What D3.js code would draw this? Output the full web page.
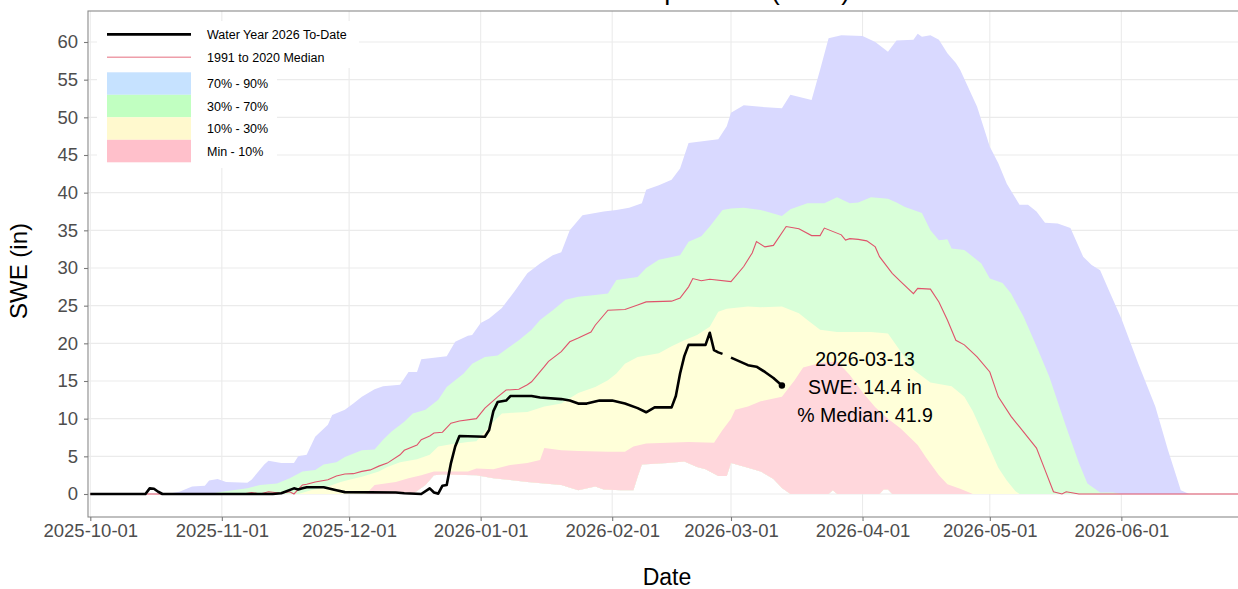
<!DOCTYPE html>
<html>
<head>
<meta charset="utf-8">
<script src="https://cdn.jsdelivr.net/npm/d3@7"></script>
<style>
  body { margin: 0; background: #fff; }
  svg { display: block; font-family: "Liberation Sans", Arial, Helvetica, sans-serif; }
</style>
</head>
<body>
<svg id="chart" width="1238" height="589"></svg>
<script>
// ---- data (date, SWE in inches) ----
const p90 = [["2025-10-01",0],["2025-10-19",0],["2025-10-22",0.3],["2025-10-25",1.0],["2025-10-28",1.1],["2025-10-29",1.8],["2025-10-31",2.0],["2025-11-02",1.6],["2025-11-07",1.5],["2025-11-08",1.9],["2025-11-11",3.9],["2025-11-12",4.4],["2025-11-15",4.1],["2025-11-18",4.1],["2025-11-19",5.0],["2025-11-21",5.2],["2025-11-23",7.6],["2025-11-26",9.2],["2025-11-27",10.5],["2025-11-30",11.2],["2025-12-02",12.0],["2025-12-04",12.9],["2025-12-07",13.9],["2025-12-09",14.3],["2025-12-13",14.5],["2025-12-15",16.2],["2025-12-17",16.2],["2025-12-18",17.9],["2025-12-21",18.1],["2025-12-24",18.3],["2025-12-26",20.2],["2025-12-29",21.0],["2025-12-30",21.1],["2026-01-01",22.7],["2026-01-03",23.3],["2026-01-06",24.7],["2026-01-09",26.9],["2026-01-12",29.3],["2026-01-15",30.6],["2026-01-18",31.7],["2026-01-20",32.1],["2026-01-22",35.0],["2026-01-25",37.0],["2026-01-30",37.5],["2026-02-02",37.7],["2026-02-05",38.0],["2026-02-08",38.6],["2026-02-09",40.4],["2026-02-12",41.0],["2026-02-15",41.7],["2026-02-17",43.2],["2026-02-19",46.6],["2026-02-26",47.1],["2026-02-28",48.8],["2026-03-01",50.6],["2026-03-04",51.6],["2026-03-08",51.4],["2026-03-13",51.2],["2026-03-15",53.0],["2026-03-20",52.3],["2026-03-22",56.3],["2026-03-24",60.5],["2026-03-27",60.9],["2026-04-01",60.8],["2026-04-04",60.0],["2026-04-07",58.7],["2026-04-09",60.2],["2026-04-13",60.3],["2026-04-14",61.1],["2026-04-15",60.7],["2026-04-17",60.9],["2026-04-19",60.3],["2026-04-21",58.5],["2026-04-23",57.2],["2026-04-24",56.3],["2026-04-28",51.4],["2026-05-01",46.1],["2026-05-03",43.9],["2026-05-05",41.2],["2026-05-08",38.4],["2026-05-10",38.4],["2026-05-12",37.5],["2026-05-14",36.0],["2026-05-17",35.9],["2026-05-20",35.3],["2026-05-23",31.5],["2026-05-25",30.4],["2026-05-27",29.7],["2026-05-29",27.1],["2026-06-01",23.3],["2026-06-05",17.3],["2026-06-09",11.6],["2026-06-12",5.8],["2026-06-14",2.3],["2026-06-15",0.5],["2026-06-17",0],["2026-06-30",0]];

const p70 = [["2025-10-01",0],["2025-10-29",0],["2025-11-01",0.3],["2025-11-07",0.75],["2025-11-10",1.2],["2025-11-14",1.4],["2025-11-17",2.1],["2025-11-20",3.0],["2025-11-23",3.2],["2025-11-25",3.9],["2025-11-28",4.2],["2025-11-30",4.9],["2025-12-04",5.8],["2025-12-07",5.9],["2025-12-09",7.2],["2025-12-11",8.3],["2025-12-14",9.6],["2025-12-16",10.7],["2025-12-19",11.2],["2025-12-22",12.5],["2025-12-24",14.2],["2025-12-26",15.1],["2025-12-28",16.0],["2025-12-30",17.3],["2026-01-02",18.2],["2026-01-05",18.4],["2026-01-08",19.6],["2026-01-10",20.4],["2026-01-13",21.8],["2026-01-15",23.1],["2026-01-18",24.4],["2026-01-21",25.8],["2026-01-24",26.2],["2026-01-28",26.4],["2026-01-31",26.6],["2026-02-02",28.4],["2026-02-07",28.8],["2026-02-09",30.0],["2026-02-12",31.1],["2026-02-17",31.7],["2026-02-19",33.5],["2026-02-22",34.2],["2026-02-24",35.5],["2026-02-27",37.7],["2026-03-01",37.9],["2026-03-04",38.0],["2026-03-08",37.7],["2026-03-13",36.9],["2026-03-15",37.8],["2026-03-19",38.6],["2026-03-23",38.6],["2026-03-26",39.4],["2026-03-29",38.6],["2026-03-31",38.7],["2026-04-03",39.4],["2026-04-07",39.2],["2026-04-09",38.7],["2026-04-11",38.1],["2026-04-15",37.3],["2026-04-17",35.0],["2026-04-19",33.7],["2026-04-21",33.8],["2026-04-22",32.6],["2026-04-25",32.4],["2026-04-29",30.6],["2026-05-01",28.6],["2026-05-04",28.0],["2026-05-06",26.6],["2026-05-09",23.5],["2026-05-12",19.6],["2026-05-15",15.6],["2026-05-19",8.9],["2026-05-22",4.1],["2026-05-24",1.4],["2026-05-27",0.2],["2026-05-30",0.2],["2026-06-01",0],["2026-06-30",0]];

const p30 = [["2025-10-01",0],["2025-11-19",0],["2025-11-22",0.5],["2025-11-26",1.0],["2025-11-29",1.6],["2025-12-01",1.9],["2025-12-04",2.3],["2025-12-08",3.0],["2025-12-10",3.6],["2025-12-13",4.2],["2025-12-17",4.6],["2025-12-20",5.2],["2025-12-22",6.3],["2025-12-25",6.6],["2025-12-29",6.9],["2025-12-31",7.0],["2026-01-04",9.6],["2026-01-06",10.7],["2026-01-12",10.9],["2026-01-16",11.6],["2026-01-20",12.0],["2026-01-24",13.4],["2026-01-28",14.2],["2026-01-31",15.1],["2026-02-02",16.0],["2026-02-04",17.3],["2026-02-07",18.2],["2026-02-12",18.7],["2026-02-15",19.6],["2026-02-18",20.4],["2026-02-21",21.1],["2026-02-24",22.2],["2026-02-26",24.2],["2026-02-28",24.6],["2026-03-05",24.9],["2026-03-08",24.8],["2026-03-13",24.9],["2026-03-17",24.0],["2026-03-19",23.1],["2026-03-22",21.8],["2026-03-26",21.5],["2026-04-03",21.5],["2026-04-07",21.3],["2026-04-10",18.9],["2026-04-13",16.5],["2026-04-17",14.8],["2026-04-22",14.3],["2026-04-25",12.9],["2026-04-27",11.0],["2026-04-29",8.5],["2026-05-01",6.0],["2026-05-03",3.5],["2026-05-05",1.8],["2026-05-07",0.4],["2026-05-08",0],["2026-06-30",0]];

const p10 = [["2025-10-01",0],["2025-12-05",0],["2025-12-06",0.6],["2025-12-07",1.2],["2025-12-12",1.6],["2025-12-15",2.1],["2025-12-18",2.5],["2025-12-21",3.0],["2025-12-29",3.0],["2025-12-31",3.4],["2026-01-04",3.3],["2026-01-08",3.85],["2026-01-12",4.1],["2026-01-15",4.5],["2026-01-16",6.1],["2026-01-20",5.8],["2026-01-24",5.7],["2026-01-31",5.6],["2026-02-04",5.6],["2026-02-06",6.3],["2026-02-09",6.7],["2026-02-19",6.9],["2026-02-25",6.8],["2026-02-27",8.5],["2026-03-01",10.0],["2026-03-02",11.2],["2026-03-05",11.6],["2026-03-08",12.3],["2026-03-13",12.9],["2026-03-16",15.1],["2026-03-18",16.8],["2026-03-22",17.4],["2026-03-26",17.6],["2026-03-29",15.8],["2026-04-01",13.5],["2026-04-04",11.5],["2026-04-07",10.0],["2026-04-10",8.7],["2026-04-14",6.5],["2026-04-16",4.8],["2026-04-19",2.5],["2026-04-21",1.3],["2026-04-24",0.7],["2026-04-27",0],["2026-06-30",0]];

const pMin = [["2025-10-01",0],["2025-12-16",0],["2025-12-19",1.2],["2025-12-21",2.5],["2025-12-23",2.6],["2025-12-31",2.5],["2026-01-04",2.1],["2026-01-12",1.6],["2026-01-20",1.2],["2026-01-24",0.5],["2026-01-28",1.0],["2026-01-30",0.6],["2026-02-03",0.5],["2026-02-06",0.5],["2026-02-07",2.3],["2026-02-08",3.9],["2026-02-14",4.1],["2026-02-18",4.3],["2026-02-21",3.6],["2026-02-23",3.3],["2026-02-26",2.4],["2026-02-28",2.4],["2026-03-01",4.1],["2026-03-05",3.5],["2026-03-08",3.0],["2026-03-11",2.0],["2026-03-13",0.8],["2026-03-15",0],["2026-03-24",0],["2026-03-25",0.5],["2026-03-26",0],["2026-04-05",0],["2026-04-06",0.6],["2026-04-07",0.6],["2026-04-08",0],["2026-06-30",0]];

const median = [["2025-10-01",0],["2025-11-06",0],["2025-11-08",0.2],["2025-11-10",0],["2025-11-12",0.3],["2025-11-15",0.1],["2025-11-17",0.3],["2025-11-18",0],["2025-11-20",1.2],["2025-11-21",1.3],["2025-11-23",1.6],["2025-11-26",1.9],["2025-11-28",2.4],["2025-11-30",2.65],["2025-12-02",2.7],["2025-12-04",3.0],["2025-12-06",3.2],["2025-12-08",3.7],["2025-12-10",4.1],["2025-12-13",5.2],["2025-12-14",5.8],["2025-12-17",6.5],["2025-12-18",7.2],["2025-12-20",7.7],["2025-12-21",8.1],["2025-12-23",8.2],["2025-12-25",9.4],["2025-12-27",9.7],["2025-12-31",10.0],["2026-01-02",11.4],["2026-01-05",12.9],["2026-01-07",13.8],["2026-01-10",13.9],["2026-01-12",14.5],["2026-01-13",14.9],["2026-01-16",16.9],["2026-01-17",17.6],["2026-01-20",18.9],["2026-01-22",20.2],["2026-01-24",20.7],["2026-01-27",21.5],["2026-01-28",22.4],["2026-01-31",24.4],["2026-02-04",24.5],["2026-02-07",25.1],["2026-02-09",25.5],["2026-02-15",25.6],["2026-02-17",26.0],["2026-02-19",27.5],["2026-02-20",28.6],["2026-02-22",28.3],["2026-02-24",28.5],["2026-03-01",28.2],["2026-03-04",30.2],["2026-03-06",32.0],["2026-03-07",33.5],["2026-03-09",32.8],["2026-03-11",33.0],["2026-03-14",35.5],["2026-03-17",35.2],["2026-03-20",34.3],["2026-03-22",34.3],["2026-03-23",35.3],["2026-03-27",34.4],["2026-03-28",33.7],["2026-03-29",33.9],["2026-03-31",33.8],["2026-04-02",33.6],["2026-04-04",32.8],["2026-04-05",31.5],["2026-04-08",29.3],["2026-04-10",28.2],["2026-04-13",26.6],["2026-04-14",27.3],["2026-04-17",27.2],["2026-04-19",25.5],["2026-04-21",23.1],["2026-04-23",20.4],["2026-04-25",19.8],["2026-04-28",18.2],["2026-05-01",16.2],["2026-05-03",12.9],["2026-05-06",10.3],["2026-05-08",8.9],["2026-05-12",6.1],["2026-05-14",3.2],["2026-05-16",0.3],["2026-05-18",0],["2026-05-19",0.3],["2026-05-22",0],["2026-06-30",0]];

// water year 2026, null = missing day
const wy2026 = [["2025-10-01",0],["2025-10-14",0],["2025-10-15",0.75],["2025-10-16",0.7],["2025-10-17",0.3],["2025-10-18",0],["2025-11-13",0],["2025-11-15",0.1],["2025-11-18",0.75],["2025-11-19",0.6],["2025-11-20",0.75],["2025-11-21",0.9],["2025-11-25",0.9],["2025-11-28",0.5],["2025-11-30",0.25],["2025-12-12",0.2],["2025-12-14",0.1],["2025-12-18",0],["2025-12-20",0.75],["2025-12-21",0.2],["2025-12-22",0.05],["2025-12-23",1.1],["2025-12-24",1.2],["2025-12-25",4.1],["2025-12-26",6.3],["2025-12-27",7.7],["2026-01-02",7.6],["2026-01-03",8.5],["2026-01-04",11.0],["2026-01-05",12.2],["2026-01-07",12.4],["2026-01-08",13.0],["2026-01-13",13.0],["2026-01-15",12.8],["2026-01-20",12.6],["2026-01-22",12.4],["2026-01-24",12.0],["2026-01-26",12.0],["2026-01-29",12.4],["2026-02-01",12.4],["2026-02-04",12.0],["2026-02-07",11.4],["2026-02-09",10.85],["2026-02-11",11.5],["2026-02-15",11.5],["2026-02-16",13.0],["2026-02-17",16.0],["2026-02-18",18.3],["2026-02-19",19.8],["2026-02-23",19.8],["2026-02-24",21.4],["2026-02-25",19.1],["2026-02-26",18.8],["2026-02-27",18.6],["2026-02-28",null],["2026-03-01",18.1],["2026-03-05",17.1],["2026-03-07",16.9],["2026-03-09",16.2],["2026-03-11",15.4],["2026-03-13",14.4]];

const lastDay = ["2026-03-13", 14.4, 41.9];
const lineLabels = ["Water Year 2026 To-Date", "1991 to 2020 Median"];
const fillLabels = ["70% - 90%", "30% - 70%", "10% - 30%", "Min - 10%"];
const yTicks = [0, 5, 10, 15, 20, 25, 30, 35, 40, 45, 50, 55, 60];

// ---- layout ----
const svg = d3.select("#chart");
const panel = {left: 88, right: 1247, top: 11, bottom: 517};
const parse = d3.utcParse("%Y-%m-%d");
const fmt = d3.utcFormat("%Y-%m-%d");

const x = d3.scaleUtc()
    .domain([parse("2025-10-01"), parse("2026-06-30")])
    .range([90.3, 1244.4]);
const y = d3.scaleLinear()
    .domain([0, 60])
    .range([494, 42]);

const monthTicks = d3.utcMonth.range(parse("2025-10-01"), parse("2026-06-02"));

svg.append("defs").append("clipPath").attr("id", "clip")
   .append("rect")
   .attr("x", panel.left).attr("y", panel.top)
   .attr("width", panel.right - panel.left)
   .attr("height", panel.bottom - panel.top);

// gridlines
const grid = svg.append("g");
grid.selectAll("line.h").data(yTicks).enter().append("line")
    .attr("x1", panel.left).attr("x2", panel.right)
    .attr("y1", d => y(d)).attr("y2", d => y(d))
    .attr("stroke", "#EBEBEB").attr("stroke-width", 1.1);
grid.selectAll("line.v").data(monthTicks).enter().append("line")
    .attr("x1", d => x(d)).attr("x2", d => x(d))
    .attr("y1", panel.top).attr("y2", panel.bottom)
    .attr("stroke", "#EBEBEB").attr("stroke-width", 1.1);

const plot = svg.append("g").attr("clip-path", "url(#clip)");

const pt = d => [x(parse(d[0])), y(d[1])];
function band(upper, lower) {
  const pts = upper.map(pt).concat(lower.slice().reverse().map(pt));
  return d3.line()(pts) + "Z";
}

// each band is drawn down to the minimum so later ones cover earlier ones
const bands = [
  {top: p90, fill: "#D9D9FF"},
  {top: p70, fill: "#D9FFD9"},
  {top: p30, fill: "#FFFFD9"},
  {top: p10, fill: "#FFD7DC"}
];
plot.selectAll("path.band").data(bands).enter().append("path")
    .attr("class", "band")
    .attr("d", b => band(b.top, pMin))
    .attr("fill", b => b.fill);

const line = d3.line()
    .defined(d => d[1] !== null)
    .x(d => x(parse(d[0])))
    .y(d => y(d[1]));

plot.append("path").datum(median)
    .attr("d", line)
    .attr("fill", "none")
    .attr("stroke", "#DF536B")
    .attr("stroke-width", 1.1);

plot.append("path").datum(wy2026)
    .attr("d", line)
    .attr("fill", "none")
    .attr("stroke", "#000")
    .attr("stroke-width", 2.6)
    .attr("stroke-linejoin", "round");

plot.append("circle")
    .attr("cx", x(parse(lastDay[0])))
    .attr("cy", y(lastDay[1]))
    .attr("r", 3.2)
    .attr("fill", "#000");

// annotation
const ann = svg.append("text")
    .attr("text-anchor", "middle")
    .attr("font-size", 19.5)
    .attr("fill", "#000");
const annX = x(parse("2026-04-01")) + 2.5;
const annY = y(lastDay[1]) + 8;
[lastDay[0], "SWE: " + lastDay[1] + " in", "% Median: " + lastDay[2]].forEach((t, i) => {
  ann.append("tspan").attr("x", annX).attr("y", annY + (i - 1) * 28).text(t);
});

// panel border
svg.append("rect")
    .attr("x", panel.left).attr("y", panel.top)
    .attr("width", panel.right - panel.left)
    .attr("height", panel.bottom - panel.top)
    .attr("fill", "none")
    .attr("stroke", "#8A8A8A")
    .attr("stroke-width", 1.1);

// axes
const xAxis = svg.append("g")
    .attr("transform", "translate(0," + panel.bottom + ")")
    .call(d3.axisBottom(x).tickValues(monthTicks).tickFormat(fmt).tickSize(4).tickPadding(2.5));
const yAxis = svg.append("g")
    .attr("transform", "translate(" + panel.left + ",0)")
    .call(d3.axisLeft(y).tickValues(yTicks).tickSize(4).tickPadding(6));
[xAxis, yAxis].forEach(g => {
  g.select(".domain").remove();
  g.selectAll(".tick line").attr("stroke", "#7A7A7A").attr("stroke-width", 1.1);
  g.selectAll(".tick text")
   .attr("fill", "#4D4D4D")
   .attr("font-size", 18.5)
   .attr("font-family", "'Liberation Sans', Arial, Helvetica, sans-serif");
});

// titles (the plot title sits above the top edge, as in the source image)
svg.append("text")
    .attr("x", 667).attr("y", -1.5)
    .attr("text-anchor", "middle")
    .attr("font-size", 27)
    .text("Snow Water Equivalent (SWE)");
svg.append("text")
    .attr("x", 667).attr("y", 585)
    .attr("text-anchor", "middle")
    .attr("font-size", 23)
    .text("Date");
svg.append("text")
    .attr("transform", "translate(27,271) rotate(-90)")
    .attr("text-anchor", "middle")
    .attr("font-size", 24)
    .text("SWE (in)");

// legend
const legend = svg.append("g");
legend.append("rect").attr("x", 97).attr("y", 21).attr("width", 262).attr("height", 47).attr("fill", "#fff");
legend.append("rect").attr("x", 97).attr("y", 66).attr("width", 180).attr("height", 102).attr("fill", "#fff");

const lineKeyStyle = [{stroke: "#000", w: 2.8}, {stroke: "#EE9EA9", w: 1.4}];
lineLabels.forEach((lab, i) => {
  const cy = 34.3 + i * 23;
  legend.append("line")
      .attr("x1", 107).attr("x2", 191)
      .attr("y1", cy).attr("y2", cy)
      .attr("stroke", lineKeyStyle[i].stroke)
      .attr("stroke-width", lineKeyStyle[i].w);
  legend.append("text")
      .attr("x", 207).attr("y", cy + 4.4)
      .attr("font-size", 12.5)
      .text(lab);
});

const fillKeyColors = ["#C6E2FF", "#C1FFC1", "#FFF9CE", "#FFC0CB"];
fillLabels.forEach((lab, i) => {
  const top = 72.3 + i * 22.5;
  legend.append("rect")
      .attr("x", 107).attr("y", top)
      .attr("width", 84).attr("height", 22.5)
      .attr("fill", fillKeyColors[i]);
  legend.append("text")
      .attr("x", 207).attr("y", top + 11.5 + 4.4)
      .attr("font-size", 12.5)
      .text(lab);
});
</script>
</body>
</html>
